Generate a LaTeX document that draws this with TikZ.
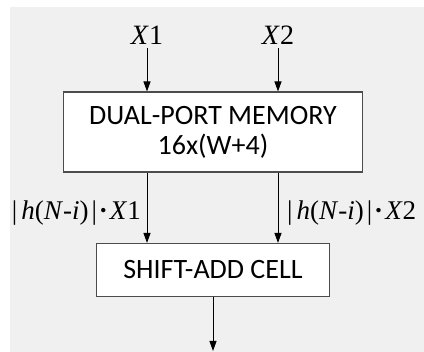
\documentclass[tikz,border=0pt]{standalone}
\usepackage{fontspec}
\setmainfont{Liberation Serif}
\newfontfamily\boxfont{Carlito}
\usetikzlibrary{arrows.meta}
\begin{document}
\begin{tikzpicture}[x=1pt,y=-1pt,
  blk/.style={draw=black!70, line width=1.1pt, fill=white, inner sep=0pt,
    font=\boxfont\fontsize{28}{30}\selectfont, align=center},
  arr/.style={-{Triangle[length=10pt,width=7pt]}, line width=1pt},
  lbl/.style={font=\fontsize{28}{30}\selectfont, inner sep=0pt},
  plbl/.style={font=\fontsize{27}{30}\selectfont, inner sep=0pt}]
\fill[white] (0,0) rectangle (424,352);
\fill[black!6] (10,7) rectangle (424,352);
\useasboundingbox (0,0) rectangle (424,352);
\node[blk, minimum width=299pt, minimum height=80pt] (mem) at (213,132) {DUAL-PORT MEMORY\\16x(W+4)};
\node[blk, minimum width=233pt, minimum height=53pt] (sac) at (213,270) {SHIFT-ADD CELL};
\node[lbl] (x1) at (147,35) {\textit{X}1};
\node[lbl] (x2) at (278,35) {\textit{X}2};
\node[plbl, anchor=east] (p1) at (141,213) {|\kern4pt\textit{h}(\textit{N}-\textit{i})\kern3pt|\kern2pt\textbf{·}\kern2pt\textit{X}1};
\node[plbl, anchor=west] (p2) at (287,213) {|\kern4pt\textit{h}(\textit{N}-\textit{i})\kern3pt|\kern2pt\textbf{·}\kern2pt\textit{X}2};
\coordinate (out) at (213,351);
\draw[arr] (147,48) -- (x1 |- mem.north);
\draw[arr] (278,48) -- (x2 |- mem.north);
\draw[arr] (x1 |- mem.south) -- (x1 |- sac.north);
\draw[arr] (x2 |- mem.south) -- (x2 |- sac.north);
\draw[arr] (sac.south) -- (out);
\end{tikzpicture}
\end{document}
